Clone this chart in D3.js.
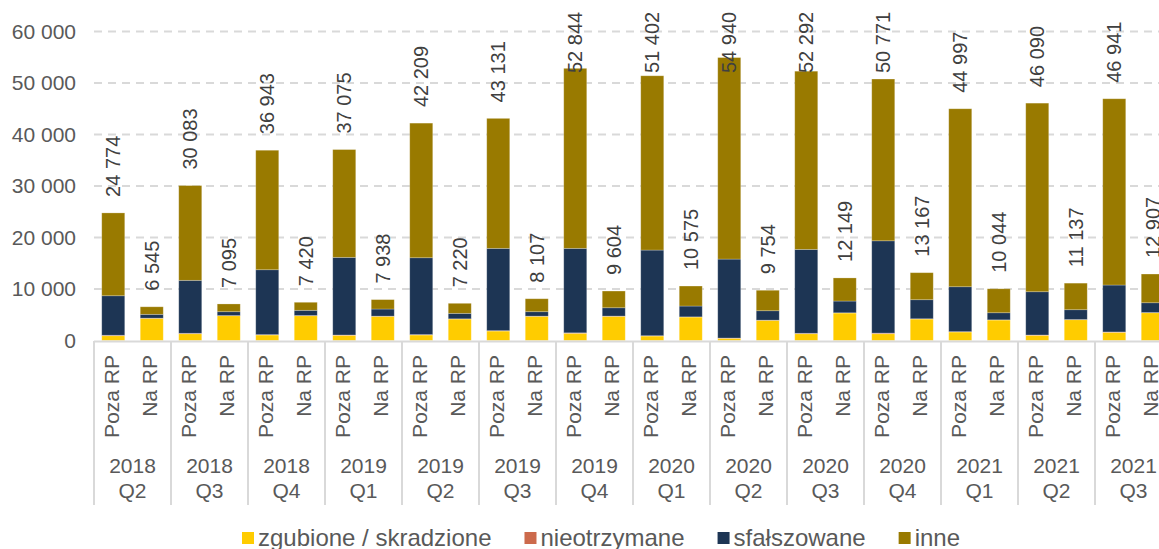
<!DOCTYPE html>
<html>
<head>
<meta charset="utf-8">
<script src="https://cdn.jsdelivr.net/npm/d3@7"></script>
<style>
  body { margin: 0; background: #fff; }
  svg { display: block; font-family: "Liberation Sans", Arial, sans-serif; }
</style>
</head>
<body>
<div id="container"></div>
<script>
const years = ["2018", "2018", "2018", "2019", "2019", "2019", "2019", "2020", "2020", "2020", "2020", "2021", "2021", "2021"];
const quarters = ["Q2", "Q3", "Q4", "Q1", "Q2", "Q3", "Q4", "Q1", "Q2", "Q3", "Q4", "Q1", "Q2", "Q3"];
const locations = ["Poza RP", "Na RP"];
const seriesNames = ["zgubione / skradzione", "nieotrzymane", "sfałszowane", "inne"];
const seriesColors = ["#FFCC00", "#CC6A4C", "#1D3554", "#997A00"];

// values per quarter: "Poza RP" / "Na RP"
const zgubionePoza = [930, 1320, 1070, 1010, 1070, 1840, 1400, 870, 430, 1320, 1320, 1650, 1010, 1590];
const zgubioneNa = [4300, 4810, 4810, 4700, 4170, 4700, 4700, 4560, 3920, 5340, 4170, 3980, 4040, 5390];
const nieotrzymanePoza = [90, 80, 70, 60, 80, 70, 90, 60, 50, 80, 120, 70, 60, 70];
const nieotrzymaneNa = [40, 30, 40, 30, 40, 30, 40, 30, 30, 40, 50, 30, 30, 40];
const sfalszowanePoza = [7670, 10280, 12600, 15070, 14920, 15980, 16400, 16630, 15330, 16290, 17920, 8720, 8400, 9110];
const sfalszowaneNa = [740, 750, 1010, 1380, 1060, 860, 1620, 2100, 1830, 2280, 3700, 1380, 1910, 1900];
const innePoza = [16084, 18403, 23203, 20935, 26139, 25241, 34954, 33842, 39130, 34602, 31411, 34557, 36620, 36171];
const inneNa = [1465, 1505, 1560, 1828, 1950, 2517, 3244, 3885, 3974, 4489, 5247, 4654, 5157, 5577];
const totalsPoza = [24774, 30083, 36943, 37075, 42209, 43131, 52844, 51402, 54940, 52292, 50771, 44997, 46090, 46941];
const totalsNa = [6545, 7095, 7420, 7938, 7220, 8107, 9604, 10575, 9754, 12149, 13167, 10044, 11137, 12907];
const yTicks = [0, 10000, 20000, 30000, 40000, 50000, 60000];

const W = 1159, H = 549;
const groupIds = years.map((y, i) => y + " " + quarters[i]);

// flat rows for stacking
const rows = [];
groupIds.forEach((g, i) => {
  rows.push({ group: g, loc: "Poza RP", total: totalsPoza[i],
    s0: zgubionePoza[i], s1: nieotrzymanePoza[i], s2: sfalszowanePoza[i], s3: innePoza[i] });
  rows.push({ group: g, loc: "Na RP", total: totalsNa[i],
    s0: zgubioneNa[i], s1: nieotrzymaneNa[i], s2: sfalszowaneNa[i], s3: inneNa[i] });
});

const locale = d3.formatLocale({ decimal: ",", thousands: " ", grouping: [3] });
const fmt = locale.format(",d");

const svg = d3.select("#container").append("svg")
  .attr("width", W)
  .attr("height", H);

const x0 = d3.scaleBand()
  .domain(groupIds)
  .range([94, 94 + 77 * groupIds.length])
  .padding(0);

const x1 = d3.scaleBand()
  .domain(locations)
  .range([0, x0.bandwidth()])
  .paddingInner(0.4026)
  .paddingOuter(0.2013);

const y = d3.scaleLinear()
  .domain([0, 60000])
  .range([340.5, 31.5]);

// gridlines
svg.append("g")
  .selectAll("line")
  .data(yTicks.filter(d => d > 0))
  .join("line")
  .attr("x1", 94)
  .attr("x2", W)
  .attr("y1", d => y(d))
  .attr("y2", d => y(d))
  .attr("stroke", "#D9D9D9")
  .attr("stroke-width", 2)
  .attr("stroke-dasharray", "8,6");

// y axis labels
svg.append("g")
  .attr("transform", "translate(76,0)")
  .call(d3.axisLeft(y).tickValues(yTicks).tickSize(0).tickPadding(0).tickFormat(fmt))
  .call(g => g.select(".domain").remove())
  .call(g => g.selectAll("text")
    .attr("font-size", 21)
    .attr("fill", "#595959")
    .attr("font-family", "Liberation Sans, Arial, sans-serif"));

// stacked bars
const keys = ["s0", "s1", "s2", "s3"];
const stacked = d3.stack().keys(keys)(rows);

svg.append("g")
  .selectAll("g")
  .data(stacked)
  .join("g")
  .attr("fill", (d, i) => seriesColors[i])
  .selectAll("rect")
  .data(d => d)
  .join("rect")
  .attr("x", d => x0(d.data.group) + x1(d.data.loc))
  .attr("width", x1.bandwidth())
  .attr("y", d => y(d[1]))
  .attr("height", d => y(d[0]) - y(d[1]))
  .attr("stroke", "#fff")
  .attr("stroke-opacity", 0.3)
  .attr("stroke-width", 0.8);

// category axis baseline and separators
svg.append("line")
  .attr("x1", 94).attr("x2", W)
  .attr("y1", 341.5).attr("y2", 341.5)
  .attr("stroke", "#D9D9D9")
  .attr("stroke-width", 2);

svg.append("g")
  .selectAll("line")
  .data(groupIds)
  .join("line")
  .attr("x1", d => x0(d))
  .attr("x2", d => x0(d))
  .attr("y1", 341)
  .attr("y2", 505)
  .attr("stroke", "#D9D9D9")
  .attr("stroke-width", 2);

// total labels above bars
svg.append("g")
  .selectAll("text")
  .data(rows)
  .join("text")
  .attr("transform", d => {
    const cx = x0(d.group) + x1(d.loc) + x1.bandwidth() / 2;
    const cy = Math.max(y(d.total) - 16, 73);
    return `translate(${cx},${cy}) rotate(-90)`;
  })
  .attr("dy", "0.35em")
  .attr("text-anchor", "start")
  .attr("font-size", 20)
  .attr("fill", "#404040")
  .text(d => fmt(d.total));

// location labels
svg.append("g")
  .selectAll("text")
  .data(rows)
  .join("text")
  .attr("transform", d => {
    const cx = x0(d.group) + x1(d.loc) + x1.bandwidth() / 2 - 2;
    return `translate(${cx},355) rotate(-90)`;
  })
  .attr("dy", "0.35em")
  .attr("text-anchor", "end")
  .attr("font-size", 21)
  .attr("fill", "#595959")
  .text(d => d.loc);

// year / quarter labels
const grp = svg.append("g")
  .selectAll("text")
  .data(groupIds)
  .join("text")
  .attr("x", d => x0(d) + x0.bandwidth() / 2)
  .attr("text-anchor", "middle")
  .attr("font-size", 21)
  .attr("fill", "#595959");

grp.append("tspan")
  .attr("x", d => x0(d) + x0.bandwidth() / 2)
  .attr("y", 473)
  .text((d, i) => years[i]);
grp.append("tspan")
  .attr("x", d => x0(d) + x0.bandwidth() / 2)
  .attr("y", 498)
  .text((d, i) => quarters[i]);

// legend
const legend = svg.append("g");
let lx = 242;
seriesNames.forEach((name, i) => {
  legend.append("rect")
    .attr("x", lx)
    .attr("y", 532)
    .attr("width", 12)
    .attr("height", 12)
    .attr("fill", seriesColors[i]);
  const t = legend.append("text")
    .attr("x", lx + 16)
    .attr("y", 546)
    .attr("font-size", 24)
    .attr("fill", "#595959")
    .text(name);
  lx += 16 + t.node().getComputedTextLength() + 33;
});
</script>
</body>
</html>
